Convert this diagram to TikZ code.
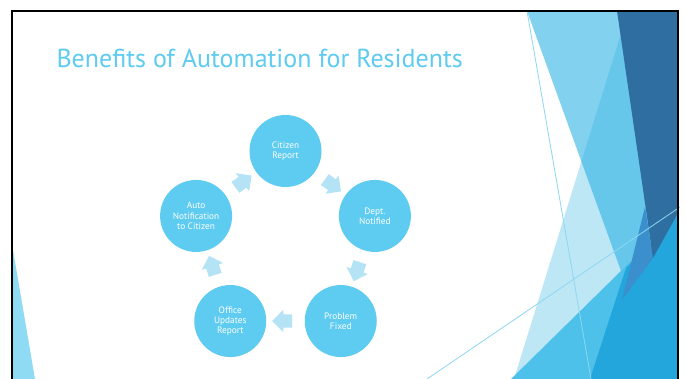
\documentclass[tikz,border=0pt]{standalone}
\usepackage{fontspec}
\setmainfont{PT Sans}
\usetikzlibrary{shapes.arrows}
\definecolor{facet}{RGB}{41,176,228}
\definecolor{stagefill}{RGB}{94,203,240}
\definecolor{turnfill}{RGB}{180,227,245}
\definecolor{paleline}{RGB}{140,215,242}
\definecolor{navy}{RGB}{46,110,160}
\definecolor{steel}{RGB}{58,143,204}
\definecolor{brightA}{RGB}{78,193,234}
\definecolor{brightB}{RGB}{34,166,220}
\definecolor{leftfacet}{RGB}{143,219,244}
\begin{document}
\begin{tikzpicture}[x=1pt,y=1pt,
  stage/.style={circle,fill=stagefill,text=white,minimum size=72pt,inner sep=0pt,
    align=center,font=\fontsize{9.3}{10.2}\selectfont},
  turn/.style={single arrow,fill=turnfill,minimum height=20pt,minimum width=22pt,
    single arrow head extend=4.5pt,inner xsep=0pt,inner ysep=6.5pt,
    sloped,allow upside down}]
\useasboundingbox (0,0) rectangle (685,379);
\fill [white] (0,0) rectangle (685,379);
% facets on the right
\fill [facet,opacity=0.58] (527,368) -- (678,368) -- (678,0) -- (660,0) -- cycle;
\fill [facet,opacity=0.3] (628,368) -- (678,368) -- (678,0) -- (514,0) -- cycle;
\fill [brightA] (511,0) -- (678,164) -- (678,0) -- cycle;
\fill [brightB] (590,0) -- (626,111) -- (678,164) -- (678,0) -- cycle;
\fill [steel] (645,172) -- (622,79) -- (653,121) -- cycle;
\fill [navy] (617,368) -- (678,368) -- (678,166) -- (653,121) -- cycle;
\draw [paleline,line width=0.8pt] (527,368) -- (591,0);
\draw [paleline,line width=0.8pt] (427,0) -- (680,172);
% facet on the left
\fill [leftfacet] (13,129) -- (13,0) -- (35,0) -- cycle;
\draw [line width=2.4pt] (12,-5) -- (12,368) -- (678,368) -- (678,-5);
\node [anchor=base west,text=stagefill,font=\fontsize{26}{30}\selectfont] (title) at (53,311.5) {Benefits of Automation for Residents};
\begin{scope}[shift={(285.5,134)}]
\node [stage] (cit) at (90:94) {Citizen\\Report};
\node [stage] (dept) at (18:94) {Dept.\\Notified};
\node [stage] (fix) at (-54:94) {Problem\\Fixed};
\node [stage] (office) at (-126:94) {Office\\Updates\\Report};
\node [stage] (auto) at (162:94) {Auto\\Notification\\to Citizen};
\end{scope}
\path (cit) -- node [turn] {} (dept);
\path (dept) -- node [turn] {} (fix);
\path (fix) -- node [turn] {} (office);
\path (office) -- node [turn] {} (auto);
\path (auto) -- node [turn] {} (cit);
\end{tikzpicture}
\end{document}
